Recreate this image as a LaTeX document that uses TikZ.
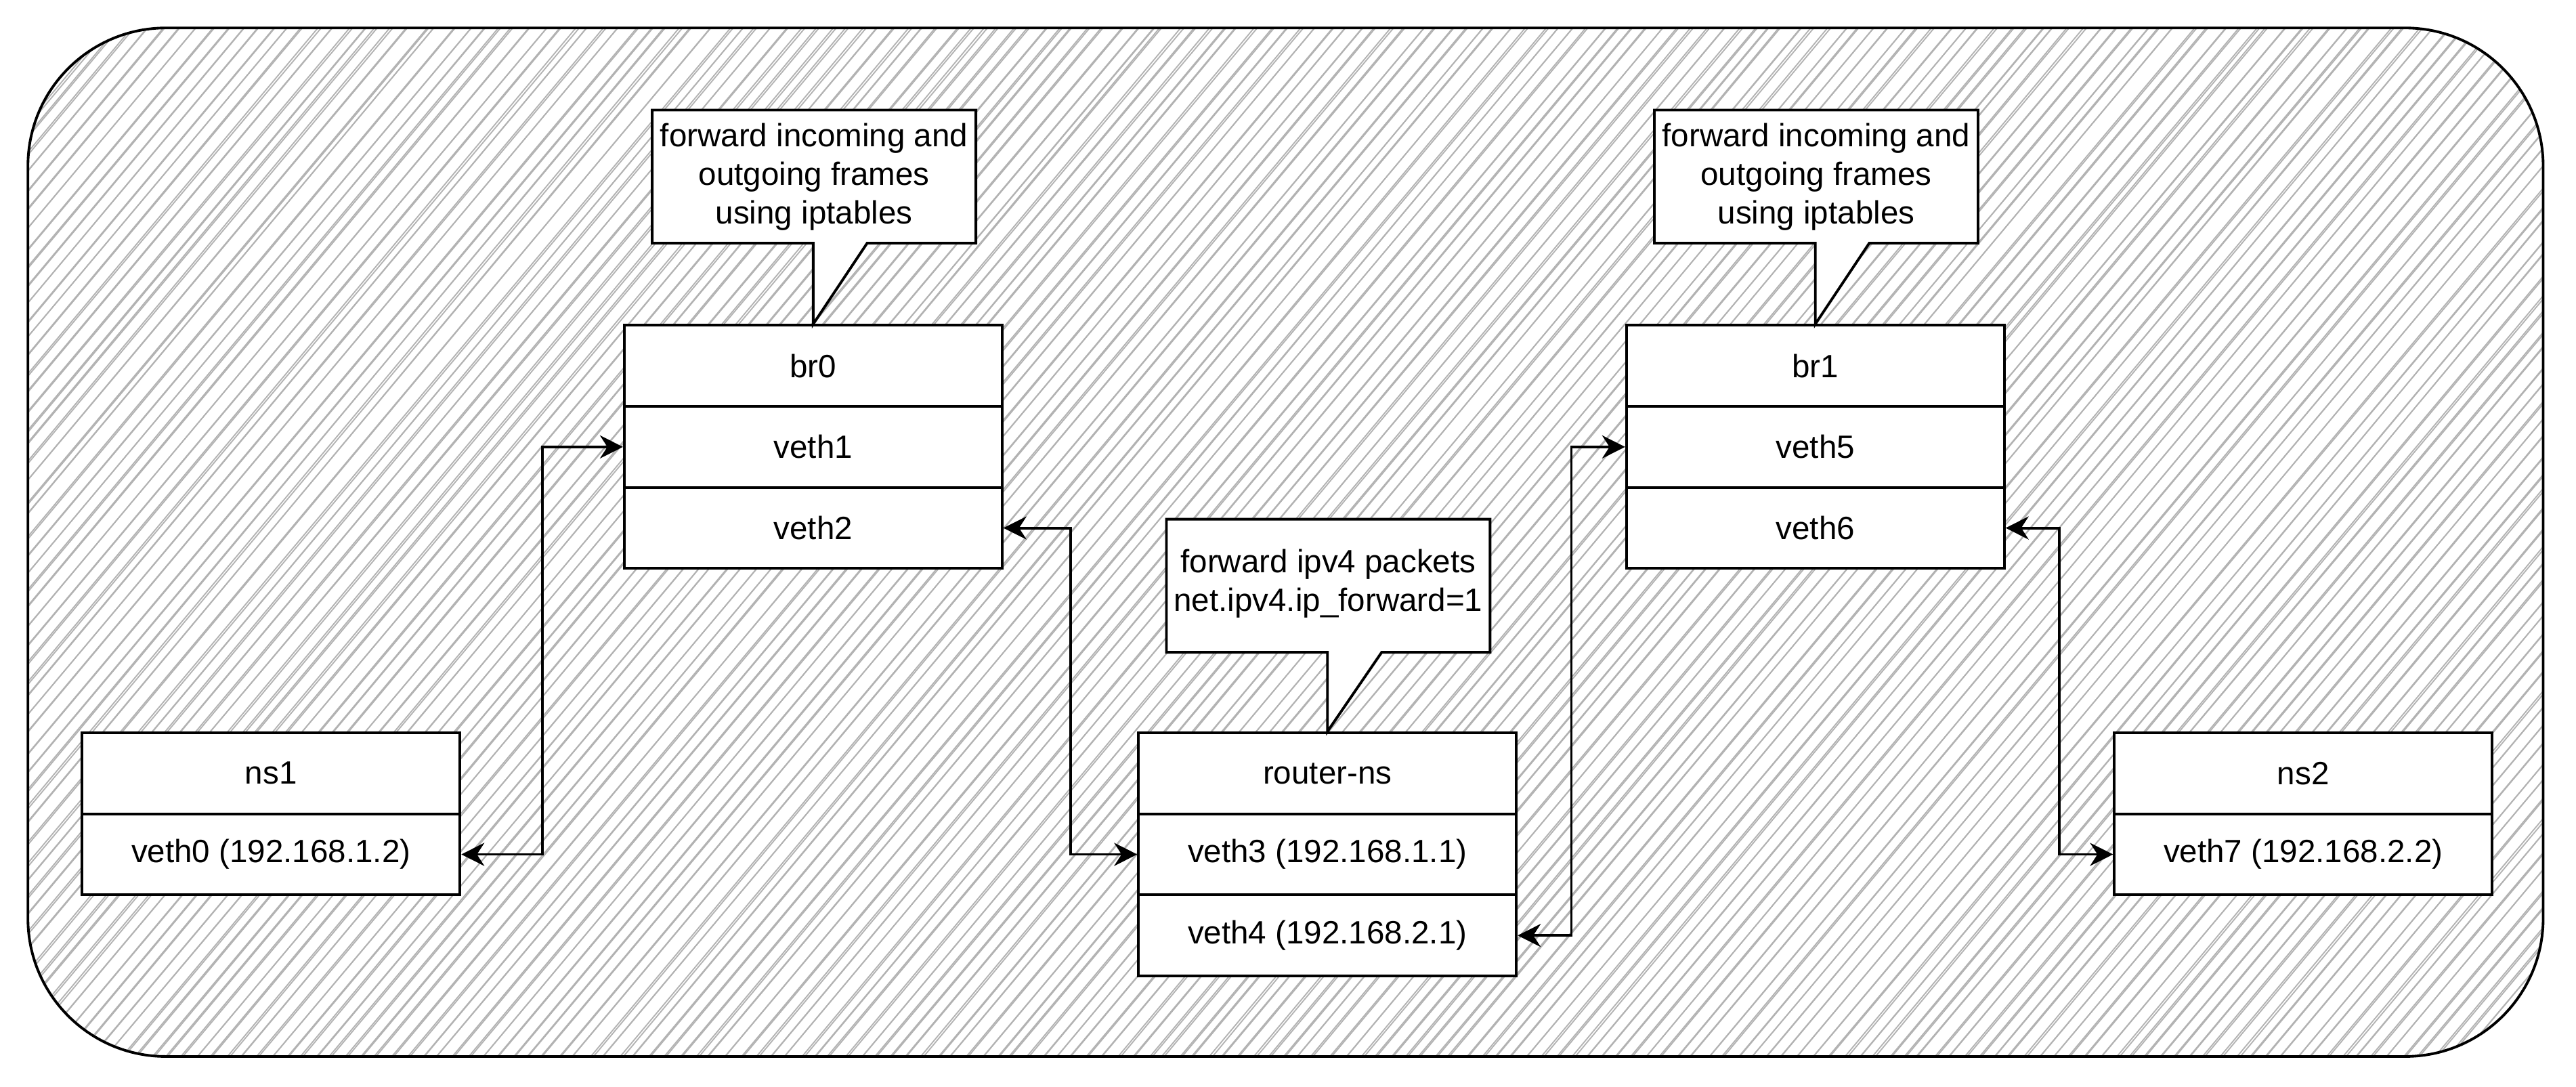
\documentclass[tikz,border=0pt]{standalone}
\usepackage{fontspec}
\setmainfont{Liberation Sans}
\usetikzlibrary{arrows.meta,calc}
\begin{document}
\begin{tikzpicture}[x=1pt,y=-1pt,
  txt/.style={font=\fontsize{19.6}{23.5}\selectfont},
  cell/.style={txt,draw,fill=white,line width=1.6pt,minimum width=230pt,
    minimum height=49.33pt,inner sep=0pt,anchor=center},
  link/.style={line width=1.6pt,{Stealth[length=14pt,width=14pt,inset=4.5pt]}-{Stealth[length=14pt,width=14pt,inset=4.5pt]}},
  hatch/.style={draw=black!30,line width=0.75pt},
  bubble/.style={draw,fill=white,line width=1.6pt,line join=miter},
  note/.style={txt,align=center,inner sep=0pt}
]
\useasboundingbox (0,0) rectangle (1568,661.17);

% hatched background panel, each stroke drawn twice with a little jitter
\begin{scope}
  \clip[rounded corners=84pt] (17,17) rectangle (1548,643);
  \pgfmathsetseed{17}
  \foreach \i in {0,...,228} {
    \pgfmathsetmacro\xa{17-540+\i*9.2+1.2*rand}
    \pgfmathsetmacro\xb{\xa+540+2*rand}
    \pgfmathsetmacro\xc{\xa+0.3+1.8*rand}
    \pgfmathsetmacro\xd{\xb+0.3+1.8*rand}
    \draw[hatch] (\xa,652) -- (\xb,8);
    \draw[hatch] (\xc,652) -- (\xd,8);
  }
\end{scope}
\draw[line width=1.6pt,rounded corners=84pt] (17,17) rectangle (1548,643);

% bridge br0
\node[cell] (br0h) at (495,222.67) {br0};
\node[cell] (br0a) at (495,272) {veth1};
\node[cell] (br0b) at (495,321.33) {veth2};

% bridge br1
\node[cell] (br1h) at (1105,222.67) {br1};
\node[cell] (br1a) at (1105,272) {veth5};
\node[cell] (br1b) at (1105,321.33) {veth6};

% namespace ns1
\node[cell] (ns1h) at (165,470.67) {ns1};
\node[cell] (ns1a) at (165,520) {veth0 (192.168.1.2)};

% router namespace
\node[cell] (rth) at (808,470.67) {router-ns};
\node[cell] (rta) at (808,520) {veth3 (192.168.1.1)};
\node[cell] (rtb) at (808,569.33) {veth4 (192.168.2.1)};

% namespace ns2
\node[cell] (ns2h) at (1402,470.67) {ns2};
\node[cell] (ns2a) at (1402,520) {veth7 (192.168.2.2)};

% callouts
\draw[bubble] (397,67) -- (594,67) -- (594,148) -- (527.8,148) -- (br0h.north)
  -- (495,148) -- (397,148) -- cycle;
\node[note] (n0) at (495.5,107.5) {forward incoming and\\outgoing frames\\using iptables};

\draw[bubble] (1007,67) -- (1204,67) -- (1204,148) -- (1137.8,148) -- (br1h.north)
  -- (1105,148) -- (1007,148) -- cycle;
\node[note] (n1) at (1105.5,107.5) {forward incoming and\\outgoing frames\\using iptables};

\draw[bubble] (710,316) -- (907,316) -- (907,397) -- (841,397) -- (rth.north)
  -- (808,397) -- (710,397) -- cycle;
\node[note] (n2) at (808.5,355) {forward ipv4 packets\\net.ipv4.ip\_forward=1};

% veth links
\draw[link] (ns1a.east) -| ($(ns1a.east)!.5!(br0a.west)$) |- (br0a.west);
\draw[link] (br0b.east) -| ($(br0b.east)!.5!(rta.west)$) |- (rta.west);
\draw[link] (rtb.east) -| ($(rtb.east)!.5!(br1a.west)$) |- (br1a.west);
\draw[link] (br1b.east) -| ($(br1b.east)!.5!(ns2a.west)$) |- (ns2a.west);
\end{tikzpicture}
\end{document}
